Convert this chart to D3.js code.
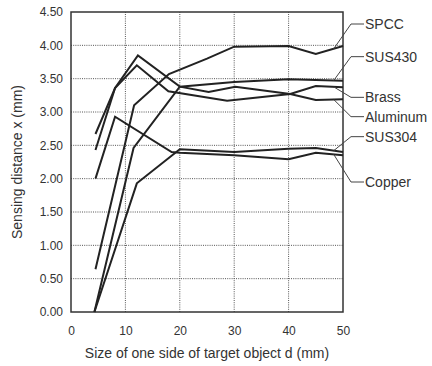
<!DOCTYPE html>
<html>
<head>
<meta charset="utf-8">
<script src="https://cdn.jsdelivr.net/npm/d3@7"></script>
<style>
  html, body { margin: 0; padding: 0; background: #fff; }
  text { font-family: "Liberation Sans", Arial, Helvetica, sans-serif; fill: #333; }
</style>
</head>
<body>
<svg id="chart"></svg>
<script>
// ticks
const xTicks = [0, 10, 20, 30, 40, 50];
const yTicks = [0, 0.5, 1, 1.5, 2, 2.5, 3, 3.5, 4, 4.5];

// materials and their curves: [d (mm), x (mm)]
const materials = ['SPCC', 'SUS430', 'Brass', 'Aluminum', 'SUS304', 'Copper'];
const spcc = [[4.5, 0.64], [11.6, 3.1], [18, 3.57], [25, 3.8], [30, 3.98], [40, 3.99], [45, 3.87], [50, 3.99]];
const sus430 = [[4.3, 0], [11.5, 2.46], [20, 3.38], [30, 3.45], [40, 3.49], [50, 3.47]];
const brass = [[4.5, 2.43], [8.1, 3.36], [12.1, 3.7], [17.9, 3.31], [28.7, 3.17], [40.3, 3.27], [45, 3.39], [50, 3.37]];
const aluminum = [[4.5, 2.67], [8.1, 3.36], [12.3, 3.85], [20, 3.38], [25.3, 3.3], [30.2, 3.38], [40.3, 3.27], [45, 3.18], [50, 3.19]];
const sus304 = [[4.3, 0], [12.1, 1.93], [20, 2.44], [30, 2.4], [40, 2.45], [45, 2.46], [50, 2.4]];
const copper = [[4.5, 2.0], [8.1, 2.93], [18.5, 2.4], [20, 2.39], [30, 2.35], [40, 2.29], [45, 2.39], [50, 2.35]];

const series = [spcc, sus430, brass, aluminum, sus304, copper];

// layout of the callout labels (y axis units) and where the leaders start (d)
const labelLevel = [4.32, 3.83, 3.22, 2.93, 2.63, 1.95];
const leaderFrom = 48.3;

const width = 432;
const height = 366;
const margin = { top: 12, right: 89, bottom: 54, left: 71 };

const svg = d3.select('#chart')
  .attr('width', width)
  .attr('height', height);

const x = d3.scaleLinear()
  .domain([0, 50])
  .range([margin.left, width - margin.right]);

const y = d3.scaleLinear()
  .domain([0, 4.5])
  .range([height - margin.bottom, margin.top]);

// grid
const grid = svg.append('g')
  .attr('stroke', '#555')
  .attr('stroke-width', 1)
  .attr('stroke-dasharray', '1,1.2');

grid.selectAll('.vx')
  .data(xTicks.slice(1, -1))
  .join('line')
  .attr('x1', d => x(d)).attr('x2', d => x(d))
  .attr('y1', y(0)).attr('y2', y(4.5));

grid.selectAll('.hy')
  .data(yTicks.slice(1, -1))
  .join('line')
  .attr('x1', x(0)).attr('x2', x(50))
  .attr('y1', d => y(d)).attr('y2', d => y(d));

// axes
svg.append('g')
  .attr('transform', `translate(${margin.left},0)`)
  .call(d3.axisLeft(y).tickValues(yTicks).tickFormat(d3.format('.2f')).tickSize(0).tickPadding(8))
  .call(g => g.select('.domain').remove())
  .call(g => g.selectAll('text').style('font-size', '12px').attr('fill', '#333'));

svg.append('g')
  .attr('transform', `translate(0,${height - margin.bottom})`)
  .call(d3.axisBottom(x).tickValues(xTicks).tickSize(0).tickPadding(14))
  .call(g => g.select('.domain').remove())
  .call(g => g.selectAll('text').style('font-size', '12px').attr('fill', '#333'));

// frame
svg.append('rect')
  .attr('x', x(0))
  .attr('y', y(4.5))
  .attr('width', x(50) - x(0))
  .attr('height', y(0) - y(4.5))
  .attr('fill', 'none')
  .attr('stroke', '#333')
  .attr('stroke-width', 1.5);

// curves
const line = d3.line()
  .x(d => x(d[0]))
  .y(d => y(d[1]));

svg.append('g')
  .selectAll('path')
  .data(series)
  .join('path')
  .attr('fill', 'none')
  .attr('stroke', '#222')
  .attr('stroke-width', 2)
  .attr('stroke-linejoin', 'miter')
  .attr('d', line);

// callouts
const valueAt = (pts, d) => {
  for (let i = 1; i < pts.length; i++) {
    if (d <= pts[i][0]) {
      const [x0, y0] = pts[i - 1];
      const [x1, y1] = pts[i];
      return y0 + (y1 - y0) * (d - x0) / (x1 - x0);
    }
  }
  return pts[pts.length - 1][1];
};

const callouts = svg.append('g');

materials.forEach((name, i) => {
  const ax = x(leaderFrom);
  const ay = y(valueAt(series[i], leaderFrom));
  const ly = y(labelLevel[i]);
  const ex = x(50) + 8;

  callouts.append('polyline')
    .attr('points', `${ax},${ay} ${ex},${ly} ${ex + 13},${ly}`)
    .attr('fill', 'none')
    .attr('stroke', '#444')
    .attr('stroke-width', 1);

  callouts.append('text')
    .attr('x', ex + 14)
    .attr('y', ly)
    .attr('dy', '0.35em')
    .style('font-size', '14px')
    .text(name);
});

// titles
svg.append('text')
  .attr('x', (x(0) + x(50)) / 2 - 0)
  .attr('y', 358)
  .attr('text-anchor', 'middle')
  .style('font-size', '14px')
  .text('Size of one side of target object d (mm)');

svg.append('text')
  .attr('transform', `translate(22,${(y(0) + y(4.5)) / 2}) rotate(-90)`)
  .attr('text-anchor', 'middle')
  .style('font-size', '14px')
  .text('Sensing distance x (mm)');
</script>
</body>
</html>
